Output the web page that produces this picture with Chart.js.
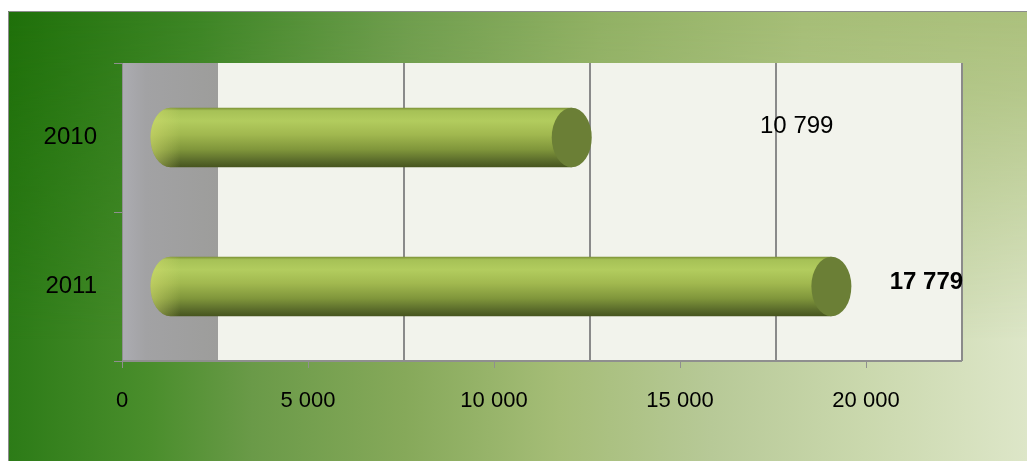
<!DOCTYPE html>
<html>
<head>
<meta charset="utf-8">
<script src="https://cdn.jsdelivr.net/npm/chart.js@4.4.1/dist/chart.umd.min.js"></script>
<style>
  html, body { margin: 0; padding: 0; background: #fff; }
  canvas { display: block; }
</style>
</head>
<body>
<canvas id="volumeChart" width="1027" height="461"></canvas>
<script>
// data
var years = ["2010", "2011"];
var volumes = [10799, 17779];
var xMin = 0, xMax = 20000, xStep = 5000;

var fontFamily = "'Liberation Sans Narrow', 'Liberation Sans', Arial, sans-serif";
var depth = 96; // depth of the 3d box, px

function spaced(v) {
  return String(v).replace(/\B(?=(\d{3})+(?!\d))/g, ' ');
}

function paintBackground(ctx, w, h) {
  // bottom colours across
  var bottom = ctx.createLinearGradient(8, 0, w, 0);
  bottom.addColorStop(0, '#2c7b17');
  bottom.addColorStop(0.14, '#4a8e2c');
  bottom.addColorStop(0.24, '#6a9a48');
  bottom.addColorStop(0.39, '#86a95a');
  bottom.addColorStop(0.54, '#a5bd77');
  bottom.addColorStop(0.69, '#b7c997');
  bottom.addColorStop(0.84, '#cad8ad');
  bottom.addColorStop(1, '#dde6c8');
  ctx.fillStyle = bottom;
  ctx.fillRect(8, 11, w - 8, h - 11);

  // top colours across, faded out downwards
  var off = document.createElement('canvas');
  off.width = w; off.height = h;
  var o = off.getContext('2d');
  var top = o.createLinearGradient(8, 0, w, 0);
  top.addColorStop(0, '#1f700a');
  top.addColorStop(0.19, '#3d8525');
  top.addColorStop(0.39, '#6e9d4d');
  top.addColorStop(0.58, '#90b063');
  top.addColorStop(0.78, '#a5bd76');
  top.addColorStop(1, '#abc07c');
  o.fillStyle = top;
  o.fillRect(0, 0, w, h);
  var mask = o.createLinearGradient(0, 11, 0, 340);
  mask.addColorStop(0, 'rgba(0,0,0,1)');
  mask.addColorStop(0.25, 'rgba(0,0,0,0.8)');
  mask.addColorStop(1, 'rgba(0,0,0,0)');
  o.globalCompositeOperation = 'destination-in';
  o.fillStyle = mask;
  o.fillRect(0, 0, w, h);
  ctx.drawImage(off, 8, 11, w - 8, h - 11, 8, 11, w - 8, h - 11);
}

// background, frame, side wall, back wall, cylinders and labels
var boxPlugin = {
  id: 'box3d',
  beforeDraw: function (chart) {
    var ctx = chart.ctx, a = chart.chartArea;
    ctx.save();
    ctx.fillStyle = '#fff';
    ctx.fillRect(0, 0, chart.width, chart.height);
    paintBackground(ctx, chart.width, chart.height);

    ctx.strokeStyle = '#8c8c8c';
    ctx.lineWidth = 1;
    ctx.beginPath();
    ctx.moveTo(8.5, chart.height);
    ctx.lineTo(8.5, 11.5);
    ctx.lineTo(chart.width, 11.5);
    ctx.stroke();

    var xs = chart.scales.x;
    var backL = xs.getPixelForValue(xMin) + depth;
    var backR = xs.getPixelForValue(xMax) + depth;

    // side wall
    var wall = ctx.createLinearGradient(a.left, 0, backL, 0);
    wall.addColorStop(0, '#acacb2');
    wall.addColorStop(0.25, '#a2a2a4');
    wall.addColorStop(1, '#9d9d9b');
    ctx.fillStyle = wall;
    ctx.fillRect(a.left, a.top, backL - a.left, a.bottom - a.top);

    // back wall
    ctx.fillStyle = '#f2f3ec';
    ctx.fillRect(backL, a.top, backR - backL, a.bottom - a.top);

    // grid lines on the back wall
    ctx.strokeStyle = '#8a8a8a';
    ctx.lineWidth = 2;
    xs.ticks.forEach(function (t) {
      if (t.value <= xMin) return;
      var px = Math.round(xs.getPixelForValue(t.value) + depth);
      ctx.beginPath();
      ctx.moveTo(px, a.top);
      ctx.lineTo(px, a.bottom);
      ctx.stroke();
    });

    // floor edge
    ctx.strokeStyle = '#8f8f8f';
    ctx.lineWidth = 2;
    ctx.beginPath();
    ctx.moveTo(a.left, a.bottom);
    ctx.lineTo(backR, a.bottom);
    ctx.stroke();
    ctx.restore();
  },
  afterDatasetsDraw: function (chart, args, opts) {
    var ctx = chart.ctx;
    var meta = chart.getDatasetMeta(0);
    ctx.save();
    meta.data.forEach(function (bar, i) {
      var h = bar.height;
      var yc = bar.y;
      var x0 = bar.base + depth / 2;
      var x1 = bar.x + depth / 2;
      var rx = 20, ry = h / 2, top = yc - ry;

      var g = ctx.createLinearGradient(0, top, 0, top + h);
      g.addColorStop(0, '#7a8f34');
      g.addColorStop(0.05, '#a6c156');
      g.addColorStop(0.22, '#b2cc5e');
      g.addColorStop(0.45, '#a1b84f');
      g.addColorStop(0.7, '#80963b');
      g.addColorStop(0.9, '#58692a');
      g.addColorStop(1, '#46541e');
      ctx.beginPath();
      ctx.moveTo(x1, top);
      ctx.lineTo(x0, top);
      ctx.ellipse(x0, yc, rx, ry, 0, -Math.PI / 2, -Math.PI * 1.5, true);
      ctx.lineTo(x1, top + h);
      ctx.closePath();
      ctx.fillStyle = g;
      ctx.fill();

      // light on the rounded left end
      var lg = ctx.createLinearGradient(x0 - rx, 0, x0 + 10, 0);
      lg.addColorStop(0, 'rgba(210,220,110,0.55)');
      lg.addColorStop(1, 'rgba(210,220,110,0)');
      ctx.beginPath();
      ctx.moveTo(x0 + 10, top);
      ctx.lineTo(x0, top);
      ctx.ellipse(x0, yc, rx, ry, 0, -Math.PI / 2, -Math.PI * 1.5, true);
      ctx.lineTo(x0 + 10, top + h);
      ctx.closePath();
      ctx.fillStyle = lg;
      ctx.fill();

      // front end cap
      ctx.beginPath();
      ctx.ellipse(x1, yc, rx, ry, 0, 0, Math.PI * 2);
      ctx.fillStyle = '#6b7f36';
      ctx.fill();

      // value label
      var s = opts.shift[i];
      ctx.fillStyle = '#000';
      ctx.font = opts.weight[i] + ' 24px ' + fontFamily;
      ctx.textAlign = 'center';
      ctx.textBaseline = 'middle';
      ctx.fillText(spaced(volumes[i]), x1 + s[0], yc + s[1]);
    });
    ctx.restore();
  }
};

var ctx = document.getElementById('volumeChart');
var chart = new Chart(ctx, {
  type: 'bar',
  data: {
    labels: years,
    datasets: [{
      data: volumes,
      backgroundColor: 'rgba(0,0,0,0)',
      borderWidth: 0,
      barPercentage: 0.4,
      categoryPercentage: 1.0
    }]
  },
  options: {
    indexAxis: 'y',
    responsive: false,
    animation: false,
    events: [],
    layout: { padding: { left: 0, top: 63, right: 161, bottom: 0 } },
    plugins: {
      legend: { display: false },
      tooltip: { enabled: false },
      box3d: {
        shift: [[225, -11], [95, -4]],
        weight: ['normal', 'bold']
      }
    },
    scales: {
      x: {
        min: xMin,
        max: xMax,
        afterFit: function (s) { s.height = 100; },
        border: { display: false },
        grid: { drawOnChartArea: false, drawTicks: true, tickLength: 7, color: '#8f8f8f', lineWidth: 1 },
        ticks: {
          stepSize: xStep,
          maxRotation: 0,
          padding: 20,
          color: '#000',
          font: { family: fontFamily, size: 22 },
          callback: function (v) { return spaced(v); }
        }
      },
      y: {
        afterFit: function (s) { s.width = 122; },
        border: { display: true, color: '#8f8f8f', width: 1 },
        grid: { drawOnChartArea: false, drawTicks: true, tickLength: 8, color: '#8f8f8f', offset: true },
        ticks: {
          padding: 17,
          color: '#000',
          font: { family: fontFamily, size: 24 }
        }
      }
    }
  },
  plugins: [boxPlugin]
});
</script>
</body>
</html>
